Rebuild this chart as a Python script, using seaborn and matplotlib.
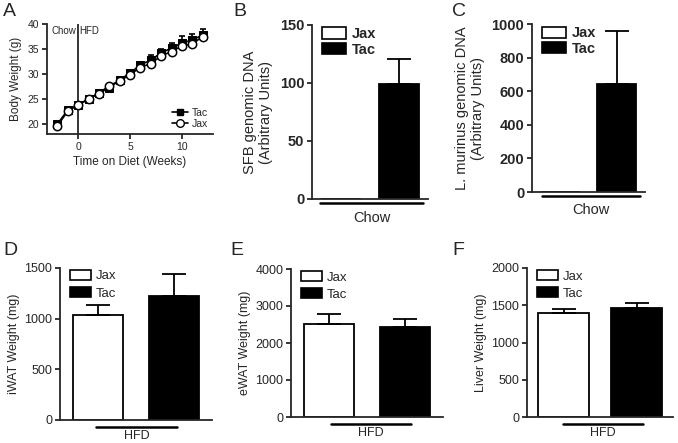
import numpy as np
import pandas as pd
import matplotlib
matplotlib.use("Agg")
import matplotlib.pyplot as plt
from matplotlib.patches import Patch
from matplotlib.lines import Line2D
import seaborn as sns

# Panel A: body weight over time
weeks = [-2, -1, 0, 1, 2, 3, 4, 5, 6, 7, 8, 9, 10, 11, 12]
tac_bw = [20.0, 22.8, 23.8, 25.0, 26.2, 27.2, 28.8, 30.2, 31.8, 32.8, 34.2, 35.2, 36.2, 36.8, 37.8]
tac_err = [0.4, 0.4, 0.4, 0.3, 0.3, 0.8, 0.4, 0.5, 0.7, 1.0, 0.8, 1.0, 1.4, 1.2, 1.3]
jax_bw = [19.6, 22.6, 23.8, 25.0, 26.1, 27.7, 28.6, 29.9, 31.3, 32.1, 33.6, 34.5, 35.6, 36.0, 37.5]
jax_err = [0.4, 0.4, 0.4, 0.3, 0.3, 0.4, 0.4, 0.4, 0.4, 0.5, 0.5, 0.5, 0.5, 0.5, 0.6]

strains = ["Jax", "Tac"]
# Panels B-F: mean, SEM
sfb_mean = [0, 99]
sfb_err = [0, 22]
lmur_mean = [0, 640]
lmur_err = [0, 320]
iwat_mean = [1040, 1220]
iwat_err = [90, 220]
ewat_mean = [2520, 2430]
ewat_err = [270, 220]
liver_mean = [1400, 1460]
liver_err = [45, 70]

sns.set_style("ticks")
plt.rcParams['font.family'] = ['Liberation Sans', 'DejaVu Sans']
plt.rcParams['axes.linewidth'] = 1.3
plt.rcParams['xtick.major.width'] = 1.3
plt.rcParams['ytick.major.width'] = 1.3
plt.rcParams['xtick.major.size'] = 3.5
plt.rcParams['ytick.major.size'] = 3.5

W, H = 678, 443
fig = plt.figure(figsize=(W / 100, H / 100), dpi=100)


def add_ax(l, r, t, b):
    return fig.add_axes([l / W, 1 - b / H, (r - l) / W, (b - t) / H])


# ---- Panel A ----
ax = add_ax(47, 213, 24, 134)
df_a = pd.DataFrame({
    "week": weeks * 2,
    "bw": tac_bw + jax_bw,
    "strain": ["Tac"] * len(weeks) + ["Jax"] * len(weeks),
})
ax.errorbar(weeks, tac_bw, yerr=[np.zeros(len(weeks)), tac_err], fmt='none',
            ecolor='black', elinewidth=1.2, capsize=2.5, capthick=1.2, zorder=2)
ax.errorbar(weeks, jax_bw, yerr=[jax_err, np.zeros(len(weeks))], fmt='none',
            ecolor='black', elinewidth=1.2, capsize=2.5, capthick=1.2, zorder=2)
sns.lineplot(data=df_a[df_a.strain == "Tac"], x="week", y="bw", ax=ax, color='black',
             marker='s', markersize=5.5, markerfacecolor='black', markeredgecolor='black',
             linewidth=1.2, legend=False, zorder=3)
sns.lineplot(data=df_a[df_a.strain == "Jax"], x="week", y="bw", ax=ax, color='black',
             marker='o', markersize=6, markerfacecolor='white', markeredgecolor='black',
             markeredgewidth=1.1, linewidth=1.2, legend=False, zorder=4)
ax.axvline(0, color='black', linewidth=1.1)
ax.text(-0.15, 38.6, "Chow", ha='right', va='center', fontsize=7)
ax.text(0.15, 38.6, "HFD", ha='left', va='center', fontsize=7)
ax.set_xlim(-3, 13)
ax.set_ylim(18, 40)
ax.set_xticks([0, 5, 10])
ax.set_yticks([20, 25, 30, 35, 40])
ax.tick_params(labelsize=7.5, pad=2)
ax.set_xlabel("Time on Diet (Weeks)", fontsize=8.5, labelpad=3)
ax.set_ylabel("Body Weight (g)", fontsize=8.5, labelpad=4)
handles = [Line2D([], [], color='black', marker='s', markersize=5, linewidth=1.2),
           Line2D([], [], color='black', marker='o', markersize=5.5, markerfacecolor='white',
                  linewidth=1.2)]
ax.legend(handles, ["Tac", "Jax"], loc='lower right', frameon=False, fontsize=7.5,
          handlelength=1.6, handletextpad=0.3, labelspacing=0.1, borderaxespad=0.1)
sns.despine(ax=ax)
fig.text(3 / W, 1 - 11 / H, "A", fontsize=14, va='center')


def bar_panel(ax, means, errs, ylim, yticks, ylabel, group, line_x, bold, tick_fs,
              label_fs, leg_fs, width=0.68, line_off=0.025, group_off=0.09,
              hlen=1.7, hheight=0.8, lspace=0.15, group_fs=None, lpad=3):
    df = pd.DataFrame({"strain": strains, "value": means})
    sns.barplot(data=df, x="strain", y="value", hue="strain", order=strains,
                palette={"Jax": "white", "Tac": "black"}, edgecolor='black',
                linewidth=1.3, width=width, legend=False, ax=ax)
    xs = np.arange(len(strains))
    for xi, m, e in zip(xs, means, errs):
        if m > 0:
            ax.errorbar([xi], [m], yerr=[[0], [e]], fmt='none', ecolor='black',
                        elinewidth=1.3, capsize=width * 12.5, capthick=1.3, zorder=1)
    ax.set_xlim(-0.5, 1.5)
    ax.set_ylim(*ylim)
    ax.set_yticks(yticks)
    ax.set_xticks([])
    ax.set_xlabel("")
    fw = 'bold' if bold else 'normal'
    ax.tick_params(axis='y', labelsize=tick_fs, pad=2)
    for lab in ax.get_yticklabels():
        lab.set_fontweight(fw)
    ax.set_ylabel(ylabel, fontsize=label_fs, labelpad=lpad, linespacing=1.15)
    ax.plot(line_x, [-line_off, -line_off], color='black', linewidth=1.8,
            transform=ax.get_xaxis_transform(), clip_on=False)
    ax.text(np.mean(line_x), -group_off, group, ha='center', va='center',
            fontsize=group_fs or label_fs, transform=ax.get_xaxis_transform())
    handles = [Patch(facecolor='white', edgecolor='black', linewidth=1.2),
               Patch(facecolor='black', edgecolor='black', linewidth=1.2)]
    leg = ax.legend(handles, strains, loc='upper left', frameon=False, fontsize=leg_fs,
                    handlelength=hlen, handleheight=hheight, handletextpad=0.4,
                    labelspacing=lspace, borderaxespad=0.1, bbox_to_anchor=(0.02, 1.03))
    for t in leg.get_texts():
        t.set_fontweight(fw)
    sns.despine(ax=ax, bottom=False)


# ---- Panel B ----
ax = add_ax(312, 428, 25, 199)
bar_panel(ax, sfb_mean, sfb_err, (0, 150), [0, 50, 100, 150],
          "SFB genomic DNA\n(Arbitrary Units)", "Chow", [-0.36, 1.41], True,
          10.5, 10.5, 10.5, width=0.7, line_off=0.022, group_off=0.11,
          hlen=1.7, hheight=0.8, lspace=0.1, group_fs=10.5, lpad=5)
fig.text(233 / W, 1 - 12 / H, "B", fontsize=14, va='center')

# ---- Panel C ----
ax = add_ax(532, 645, 24, 192)
bar_panel(ax, lmur_mean, lmur_err, (0, 1000), [0, 200, 400, 600, 800, 1000],
          "L. murinus genomic DNA\n(Arbitrary Units)", "Chow", [-0.32, 1.41], True,
          10.5, 10.5, 10.5, width=0.69, line_off=0.022, group_off=0.11,
          hlen=1.7, hheight=0.8, lspace=0.1, group_fs=10.5, lpad=5)
fig.text(452 / W, 1 - 12 / H, "C", fontsize=14, va='center')

# ---- Panel D ----
ax = add_ax(60, 212, 268, 420)
bar_panel(ax, iwat_mean, iwat_err, (0, 1500), [0, 500, 1000, 1500],
          "iWAT Weight (mg)", "HFD", [-0.02, 1.04], False,
          9, 9, 9.5, width=0.67, line_off=0.045, group_off=0.105,
          hlen=1.6, hheight=0.75, lspace=0.35, group_fs=9)
fig.text(3 / W, 1 - 250 / H, "D", fontsize=14, va='center')

# ---- Panel E ----
ax = add_ax(291, 443, 269, 417)
bar_panel(ax, ewat_mean, ewat_err, (0, 4000), [0, 1000, 2000, 3000, 4000],
          "eWAT Weight (mg)", "HFD", [0.02, 1.08], False,
          9, 9, 9.5, width=0.67, line_off=0.045, group_off=0.105,
          hlen=1.6, hheight=0.75, lspace=0.35, group_fs=9)
fig.text(230 / W, 1 - 250 / H, "E", fontsize=14, va='center')

# ---- Panel F ----
ax = add_ax(527, 673, 268, 417)
bar_panel(ax, liver_mean, liver_err, (0, 2000), [0, 500, 1000, 1500, 2000],
          "Liver Weight (mg)", "HFD", [-0.01, 1.09], False,
          9, 9, 9.5, width=0.7, line_off=0.045, group_off=0.105,
          hlen=1.6, hheight=0.75, lspace=0.35, group_fs=9)
fig.text(452 / W, 1 - 250 / H, "F", fontsize=14, va='center')

fig.savefig("out.png", dpi=100)
